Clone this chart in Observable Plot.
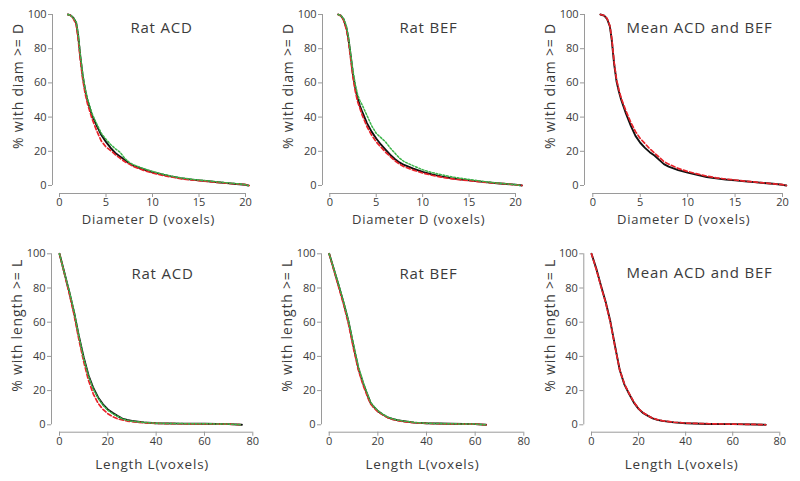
<!DOCTYPE html>
<html>
<head>
<meta charset="utf-8">
<script src="https://cdn.jsdelivr.net/npm/d3@7"></script>
<script src="https://cdn.jsdelivr.net/npm/@observablehq/plot@0.6"></script>
<style>
  html, body { margin: 0; padding: 0; background: #fff; }
  #chart { position: relative; width: 800px; height: 481px; }
  #chart svg { position: absolute; left: 0; top: 0; overflow: visible; }
  #chart g[aria-label="text"] text { letter-spacing: 0.8px; }
</style>
</head>
<body>
<div id="chart"></div>
<script>
// ---------- tick labels ----------
const diamTicks = [0, 5, 10, 15, 20];
const lengthTicks = [0, 20, 40, 60, 80];
const pctTicks = [0, 20, 40, 60, 80, 100];

// ---------- Diameter, Rat ACD ----------
const acdDiamBlack = [[0.9,100],[1.2,99.5],[1.5,98],[1.8,95],[2.0,88],[2.25,75],[2.5,64],[2.75,56],[3,50],[3.5,41],[4,35],[4.5,29.5],[5,25.5],[5.5,22],[6,19],[6.5,17],[7,15],[7.5,13],[8,11.5],[9,9.5],[10,7.8],[11,6.5],[12,5.3],[13,4.3],[14,3.6],[15,3],[16,2.5],[17,1.9],[18,1.4],[19,0.9],[20,0.4],[20.3,0]];
const acdDiamRed = [[0.9,100],[1.2,99.4],[1.5,97.5],[1.8,94],[2.0,86],[2.25,73],[2.5,62],[2.75,54],[3,48],[3.5,39],[4,32],[4.5,26],[5,22.5],[5.5,20.5],[6,18],[6.5,16],[7,14],[7.5,12.5],[8,11],[9,9],[10,7.3],[11,6],[12,5],[13,4],[14,3.4],[15,2.8],[16,2.3],[17,1.8],[18,1.3],[19,0.9],[20,0.5],[20.4,0]];
const acdDiamGreen = [[0.9,100],[1.2,99.5],[1.5,98],[1.8,95.5],[2.0,89],[2.25,76],[2.5,65],[2.75,57],[3,51],[3.5,42],[4,36],[4.5,30.5],[5,27],[5.5,24],[6,21.5],[6.5,19.5],[7,16],[7.5,13.5],[8,12],[9,10],[10,8.2],[11,6.8],[12,5.5],[13,4.5],[14,3.8],[15,3.2],[16,2.7],[17,2.1],[18,1.6],[19,1.1],[20,0.5],[20.3,0]];

// ---------- Diameter, Rat BEF ----------
const befDiamBlack = [[0.9,100],[1.2,99.3],[1.5,97],[1.8,92],[2.0,86],[2.25,76],[2.5,65],[2.75,57],[3,51],[3.25,46.5],[3.5,43],[4,36.5],[4.5,31.5],[5,27.5],[5.5,24],[6,21],[6.5,18],[7,15.5],[7.5,13.5],[8,12],[9,9.8],[10,8],[11,6.5],[12,5.3],[13,4.3],[14,3.6],[15,3],[16,2.4],[17,1.8],[18,1.3],[19,0.9],[20,0.5],[20.7,0]];
const befDiamRed = [[0.9,100],[1.2,99.2],[1.5,96.5],[1.8,91],[2.0,85],[2.25,74],[2.5,63],[2.75,55],[3,49],[3.25,45],[3.5,41],[4,34.5],[4.5,29.5],[5,25.5],[5.5,22.5],[6,19.5],[6.5,17],[7,14.5],[7.5,12.5],[8,11],[9,9],[10,7.3],[11,6],[12,4.9],[13,4],[14,3.4],[15,2.8],[16,2.3],[17,1.7],[18,1.3],[19,0.9],[20,0.4],[20.7,0]];
const befDiamGreen = [[0.9,100],[1.2,99.4],[1.5,97.5],[1.8,93],[2.0,87],[2.25,77],[2.5,67],[2.75,59],[3,53],[3.25,49.5],[3.5,47],[4,41],[4.5,35],[5,30.5],[5.5,28],[6,25.5],[6.5,22],[7,19],[7.5,16],[8,14],[9,11.5],[10,9.2],[11,7.6],[12,6.3],[13,5.2],[14,4.3],[15,3.5],[16,2.8],[17,2.1],[18,1.5],[19,1],[20,0.5],[20.5,0]];

// ---------- Diameter, mean ----------
const meanDiamBlack = [[0.8,100],[1.2,99.3],[1.5,97.5],[1.8,93],[2.0,85],[2.25,71],[2.5,61],[2.75,55],[3,50],[3.5,42],[4,35],[4.5,29],[5,25],[5.5,22],[6,19.5],[6.5,17.5],[7,15],[7.5,12.5],[8,11],[9,9],[10,7.5],[11,6.2],[12,5],[13,4.2],[14,3.5],[15,3],[16,2.5],[17,2],[18,1.5],[19,1],[20,0.4],[20.4,0]];
const meanDiamRed = [[0.8,100],[1.2,99.4],[1.5,97.8],[1.8,93.5],[2.0,86],[2.25,72],[2.5,62],[2.75,56],[3,51],[3.5,43.5],[4,37],[4.5,31.5],[5,27.5],[5.5,24.5],[6,21.5],[6.5,19],[7,16.5],[7.5,14],[8,12.5],[9,10],[10,8.2],[11,6.8],[12,5.5],[13,4.5],[14,3.8],[15,3.2],[16,2.6],[17,2.1],[18,1.5],[19,1],[20,0.5],[20.4,0]];

// ---------- Length, Rat ACD ----------
const acdLenBlack = [[0,100],[2,89],[4,78],[6,66],[8,52],[10,39.5],[12,29],[14,21.5],[16,16],[18,12],[20,9],[22,7],[24,5.2],[26,3.6],[28,2.8],[30,2.2],[35,1.4],[40,0.9],[50,0.7],[60,0.6],[70,0.4],[75.5,0]];
const acdLenRed = [[0,100],[2,88.5],[4,77],[6,64.5],[8,50],[10,37],[12,26],[14,18],[16,12.5],[18,9],[20,6.5],[22,4.8],[24,3.5],[26,2.8],[28,2.2],[30,1.8],[35,1.2],[40,0.8],[50,0.6],[60,0.5],[70,0.4],[75.5,0]];
const acdLenGreen = [[0,100],[2,89],[4,78.5],[6,66.5],[8,52],[10,39],[12,28.5],[14,21],[16,15.5],[18,11.5],[20,8.5],[22,6.5],[24,5],[26,3.5],[28,2.7],[30,2.1],[35,1.4],[40,0.9],[50,0.7],[60,0.6],[70,0.4],[75.5,0]];

// ---------- Length, Rat BEF ----------
const befLenBlack = [[0,100],[2,90.5],[4,81],[6,71],[8,60],[10,46],[12,33],[14,24],[16,16.5],[17,12.8],[18,11],[20,8],[22,6],[24,4.4],[26,3.4],[28,2.7],[30,2.2],[35,1.3],[40,0.9],[50,0.6],[60,0.4],[64.5,0]];
const befLenRed = [[0,100],[2,90],[4,80],[6,70],[8,58.5],[10,44.5],[12,32],[14,23],[16,15.5],[17,12.3],[18,10.5],[20,7.7],[22,5.8],[24,4.2],[26,3.2],[28,2.5],[30,2],[35,1.2],[40,0.8],[50,0.5],[60,0.4],[64.5,0]];
const befLenGreen = [[0,100],[2,90.8],[4,81.5],[6,71.5],[8,60.5],[10,47],[12,34],[14,24.8],[16,17],[17,13.3],[18,11.3],[20,8.3],[22,6.2],[24,4.6],[26,3.5],[28,2.8],[30,2.3],[35,1.4],[40,0.9],[50,0.6],[60,0.4],[64.5,0]];

// ---------- Length, mean ----------
const meanLenBlack = [[0,100],[2,91.5],[4,81.5],[6,72],[8,60.5],[10,46],[12,32],[14,23.5],[16,18],[18,13],[20,9.3],[22,6.8],[24,5.2],[26,3.8],[28,2.9],[30,2.3],[35,1.4],[40,0.9],[50,0.5],[60,0.4],[70,0.2],[74,0]];
const meanLenRed = [[0,100],[2,91],[4,81],[6,71.5],[8,60],[10,45.5],[12,32],[14,23.8],[16,18.3],[18,13.3],[20,9.5],[22,7],[24,5.3],[26,3.9],[28,3],[30,2.4],[35,1.5],[40,1],[50,0.6],[60,0.4],[70,0.2],[74,0]];

// ---------- styles ----------
const styles = {
  black: {stroke: "#111", strokeWidth: 1.9},
  red:   {stroke: "#e8232a", strokeWidth: 1.7, strokeDasharray: "4,2.5"},
  green: {stroke: "#3bb54a", strokeWidth: 1.5, strokeDasharray: "1.8,1.8"}
};
const textColor = "#3b3b3b";
const axisColor = "#9a9a9a";

// ---------- layout (pixel geometry of each panel) ----------
const topGeo = (ax, x0, x1) => ({axisX: ax, x0, x1, axisY: 193, y0: 185, y1: 14, xLabelDy: 30, xLabelSize: 13});
const botGeo = (ax, x0, x1) => ({axisX: ax, x0, x1, axisY: 431.7, y0: 424.3, y1: 253.3, xLabelDy: 37, xLabelSize: 13.5});

const panels = [
  {title: "Rat ACD", xTicks: diamTicks, xLabel: "Diameter D (voxels)", yLabel: "% with diam >= D",
   lines: [[acdDiamBlack, "black"], [acdDiamRed, "red"], [acdDiamGreen, "green"]],
   geo: topGeo(52, 59, 245), titlePos: [161, 22]},
  {title: "Rat BEF", xTicks: diamTicks, xLabel: "Diameter D (voxels)", yLabel: "% with diam >= D",
   lines: [[befDiamBlack, "black"], [befDiamRed, "red"], [befDiamGreen, "green"]],
   geo: topGeo(322, 329.3, 515), titlePos: [428, 22]},
  {title: "Mean ACD and BEF", xTicks: diamTicks, xLabel: "Diameter D (voxels)", yLabel: "% with diam >= D",
   lines: [[meanDiamBlack, "black"], [meanDiamRed, "red"]],
   geo: topGeo(584, 592.3, 782), titlePos: [699, 22]},
  {title: "Rat ACD", xTicks: lengthTicks, xLabel: "Length L(voxels)", yLabel: "% with length >= L",
   lines: [[acdLenBlack, "black"], [acdLenRed, "red"], [acdLenGreen, "green"]],
   geo: botGeo(51, 59, 252.3), titlePos: [162, 268]},
  {title: "Rat BEF", xTicks: lengthTicks, xLabel: "Length L(voxels)", yLabel: "% with length >= L",
   lines: [[befLenBlack, "black"], [befLenRed, "red"], [befLenGreen, "green"]],
   geo: botGeo(321, 328.7, 523.3), titlePos: [428, 268]},
  {title: "Mean ACD and BEF", xTicks: lengthTicks, xLabel: "Length L(voxels)", yLabel: "% with length >= L",
   lines: [[meanLenBlack, "black"], [meanLenRed, "red"]],
   geo: botGeo(583.3, 591, 779.3), titlePos: [699, 267]}
];

const W = 800, H = 481;
const root = document.getElementById("chart");

for (const p of panels) {
  const g = p.geo;
  const xMax = p.xTicks[p.xTicks.length - 1];
  const yMax = pctTicks[pctTicks.length - 1];
  const kx = (g.x1 - g.x0) / xMax;
  const ky = (g.y0 - g.y1) / yMax;
  const rightPx = g.x1 + 8, topPx = g.y1 - 7;
  const xLo = -(g.x0 - g.axisX) / kx, xHi = xMax + (rightPx - g.x1) / kx;
  const yLo = -(g.axisY - g.y0) / ky, yHi = yMax + (g.y1 - topPx) / ky;
  const marginTop = topPx;

  const marks = [
    Plot.ruleY([yLo], {x1: p.xTicks[0], x2: xMax, stroke: axisColor, strokeWidth: 1}),
    Plot.ruleX([xLo], {y1: pctTicks[0], y2: yMax, stroke: axisColor, strokeWidth: 1}),
    Plot.axisX(p.xTicks, {anchor: "bottom", tickSize: 4, tickPadding: 1, stroke: axisColor, fill: textColor, fontSize: 11, label: null}),
    Plot.axisY(pctTicks, {anchor: "left", tickSize: 4, tickPadding: 2, stroke: axisColor, fill: textColor, fontSize: 11, label: null}),
    ...p.lines.map(([data, s]) => Plot.line(data, {x: d => d[0], y: d => d[1], ...styles[s], strokeLinejoin: "round"})),
    Plot.text([p.title], {text: d => d, frameAnchor: "top-left", dx: p.titlePos[0] - g.axisX, dy: p.titlePos[1] - marginTop,
      textAnchor: "middle", fontSize: 15, fill: textColor}),
    Plot.text([p.xLabel], {text: d => d, frameAnchor: "bottom-left", dx: (g.x0 + g.x1) / 2 - 4 - g.axisX, dy: g.xLabelDy,
      textAnchor: "middle", fontSize: g.xLabelSize, fill: textColor}),
    Plot.text([p.yLabel], {text: d => d, frameAnchor: "top-left", rotate: -90, dx: -39, dy: (g.y0 + g.y1) / 2 - 14 - marginTop,
      textAnchor: "middle", fontSize: 14, fill: textColor})
  ];

  const plot = Plot.plot({
    width: W, height: H,
    marginLeft: g.axisX, marginRight: W - rightPx,
    marginTop: marginTop, marginBottom: H - g.axisY,
    x: {domain: [xLo, xHi], axis: null},
    y: {domain: [yLo, yHi], axis: null},
    style: {fontFamily: "'Open Sans', 'DejaVu Sans', sans-serif", fontSize: "11px", background: "transparent", color: textColor},
    marks
  });
  root.appendChild(plot);
}
</script>
</body>
</html>
